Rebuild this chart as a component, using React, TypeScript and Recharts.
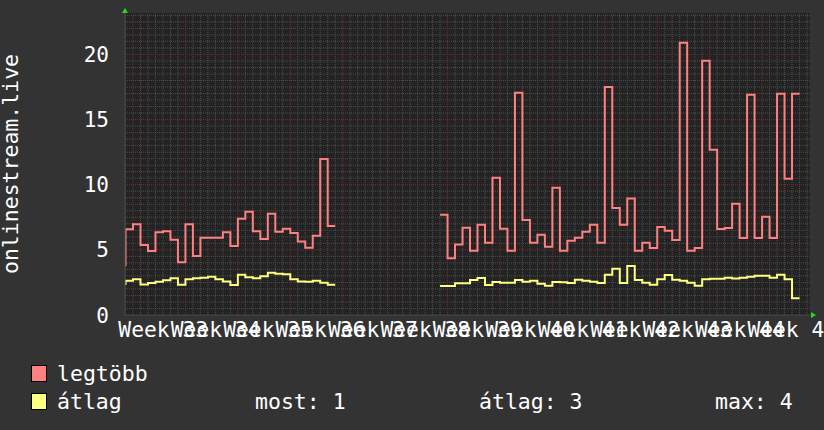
import { Line, LineChart, ReferenceArea, ReferenceDot, ReferenceLine, XAxis, YAxis } from 'recharts';

// daily samples, first value belongs to day -2 (day 0 = start of Week 33)
const firstDay = -2;

const legtobb = [
  3.84, 6.58, 6.96, 5.37, 4.91, 6.35, 6.42, 5.78, 4.04, 6.96, 4.53, 5.93, 5.93, 5.93, 6.35, 5.3,
  7.39, 7.93, 6.42, 5.83, 7.78, 6.39, 6.62, 6.29, 5.65, 5.17, 6.09, 11.97, 6.83,
  null, null, null, null, null, null, null, null, null, null, null, null, null, null,
  7.7, 4.35, 5.42, 6.7, 4.94, 6.93, 5.55, 10.54, 6.62, 4.94, 17.06, 7.29, 5.55, 6.16, 5.24, 9.77,
  4.94, 5.7, 5.93, 6.39, 6.93, 5.55, 17.5, 8.21, 6.93, 8.95, 4.94, 5.55, 5.14, 6.75, 6.47, 5.76,
  20.9, 4.94, 5.14, 19.52, 12.69, 6.6, 6.68, 8.54, 5.91, 16.91, 5.91, 7.54, 5.91, 16.99, 10.46, 16.99,
];

const atlag = [
  2.38, 2.63, 2.75, 2.35, 2.45, 2.56, 2.67, 2.83, 2.32, 2.74, 2.82, 2.86, 2.94, 2.75, 2.58, 2.3,
  3.08, 2.89, 2.83, 2.98, 3.25, 3.17, 3.12, 2.75, 2.58, 2.56, 2.63, 2.48, 2.32,
  null, null, null, null, null, null, null, null, null, null, null, null, null, null,
  2.23, 2.23, 2.43, 2.43, 2.69, 2.84, 2.3, 2.53, 2.48, 2.48, 2.69, 2.56, 2.63, 2.4, 2.25, 2.53,
  2.51, 2.46, 2.71, 2.63, 2.56, 2.46, 3.09, 3.55, 2.46, 3.76, 2.69, 2.48, 2.33, 2.74, 3.07, 2.71,
  2.63, 2.48, 2.25, 2.74, 2.79, 2.79, 2.86, 2.81, 2.86, 2.94, 3.02, 3.02, 2.86, 3.09, 2.74, 1.28,
];

const weekLabels = [
  'Week 33', 'Week 34', 'Week 35', 'Week 36', 'Week 37', 'Week 38', 'Week 39',
  'Week 40', 'Week 41', 'Week 42', 'Week 43', 'Week 44', 'Week 45',
];
const yTicks = [0, 5, 10, 15, 20];

const yTitle = 'onlinestream.live';
const legendItems = [
  { name: 'legtöbb', color: '#ff8080' },
  { name: 'átlag', color: '#ffff80' },
];
const stats = ['most: 1', 'átlag: 3', 'max: 4'];

const X_MIN = -1.07;
const X_MAX = 90.4;
const Y_MAX = 23.18;
const FONT = '"DejaVu Sans Mono", monospace';

// each value covers [day, day + 1)
const toSteps = (values: (number | null)[]) => {
  const out: { day: number; value: number | null }[] = [];
  values.forEach((v, i) => {
    const day = firstDay + i;
    out.push({ day, value: v });
    if (v != null && values[i + 1] == null) out.push({ day: day + 1, value: v });
  });
  return out;
};

const peakData = toSteps(legtobb);
const avgData = toSteps(atlag);

const weekTicks = weekLabels.map((_, i) => i * 7 + 3.5);
const majorX = weekLabels.map((_, i) => i * 7);
const minorX: number[] = [];
for (let d = -1; d <= 90; d++) if (d % 7 !== 0) minorX.push(d);
const minorY: number[] = [];
for (let v = 0.5; v <= 23; v += 0.5) if (v % 5 !== 0) minorY.push(v);
const majorY = yTicks.filter((v) => v > 0);

const XTick = ({ x, y, payload }: any) => {
  const idx = Math.round((payload.value - 3.5) / 7);
  return (
    <text x={x + 4} y={y + 14} textAnchor="middle" fill="#ffffff" fontSize={21.3} fontFamily={FONT}>
      {weekLabels[idx]}
    </text>
  );
};

const YTick = ({ x, y, payload }: any) => (
  <text x={x} y={y} dy="0.36em" textAnchor="end" fill="#ffffff" fontSize={21} fontFamily={FONT}>
    {payload.value}
  </text>
);

const UpArrow = ({ cx, cy }: any) => (
  <polygon points={`${cx - 3},${cy} ${cx + 3},${cy} ${cx},${cy - 5}`} fill="#22dd22" />
);
const RightArrow = ({ cx, cy }: any) => (
  <polygon points={`${cx + 1},${cy - 3} ${cx + 1},${cy + 3} ${cx + 6},${cy}`} fill="#22dd22" />
);

export default function App() {
  return (
    <div style={{ position: 'absolute', left: 0, top: 0, width: 824, height: 430, background: '#333333' }}>
      <LineChart width={824} height={430} margin={{ top: 13, right: 14, bottom: 85, left: 65 }}>
        <XAxis
          type="number"
          dataKey="day"
          domain={[X_MIN, X_MAX]}
          allowDataOverflow
          ticks={weekTicks}
          interval={0}
          tick={<XTick />}
          tickLine={false}
          axisLine={{ stroke: '#4a4a4a' }}
          height={30}
        />
        <YAxis
          type="number"
          domain={[0, Y_MAX]}
          allowDataOverflow
          ticks={yTicks}
          interval={0}
          tick={<YTick />}
          tickLine={false}
          tickSize={6}
          tickMargin={10}
          axisLine={{ stroke: '#4a4a4a' }}
          width={60}
        />
        <ReferenceArea x1={X_MIN} x2={X_MAX} y1={0} y2={Y_MAX} fill="#232323" fillOpacity={1} stroke="none" />
        {minorY.map((v) => (
          <ReferenceLine key={'hy' + v} y={v} stroke="#4e4e4e" strokeDasharray="1 1" />
        ))}
        {minorX.map((d) => (
          <ReferenceLine key={'hx' + d} x={d} stroke="#4e4e4e" strokeDasharray="1 1" />
        ))}
        {majorY.map((v) => (
          <ReferenceLine key={'my' + v} y={v} stroke="#6e3030" strokeDasharray="1 1" />
        ))}
        {majorX.map((d) => (
          <ReferenceLine key={'mx' + d} x={d} stroke="#6e3030" strokeDasharray="1 1" />
        ))}
        <Line
          data={peakData}
          dataKey="value"
          type="stepAfter"
          stroke="#ff8080"
          strokeWidth={2}
          dot={false}
          activeDot={false}
          connectNulls={false}
          isAnimationActive={false}
        />
        <Line
          data={avgData}
          dataKey="value"
          type="stepAfter"
          stroke="#ffff80"
          strokeWidth={2}
          dot={false}
          activeDot={false}
          connectNulls={false}
          isAnimationActive={false}
        />
        <ReferenceDot x={X_MIN} y={Y_MAX} r={0} shape={<UpArrow />} ifOverflow="visible" />
        <ReferenceDot x={X_MAX} y={0} r={0} shape={<RightArrow />} ifOverflow="visible" />
      </LineChart>
      <svg width={824} height={430} style={{ position: 'absolute', left: 0, top: 0, pointerEvents: 'none' }}>
        <text
          x={18}
          y={164}
          transform="rotate(-90 18 164)"
          textAnchor="middle"
          fill="#ffffff"
          fontSize={21.5}
          fontFamily={FONT}
        >
          {yTitle}
        </text>
        {legendItems.map((item, i) => (
          <g key={item.name}>
            <rect x={31.5} y={365.5 + i * 28} width={15} height={16} fill={item.color} stroke="#000000" />
            <text x={57} y={381 + i * 28} fill="#ffffff" fontSize={21.5} fontFamily={FONT}>
              {item.name}
            </text>
          </g>
        ))}
        {stats.map((s, i) => (
          <text key={s} x={[255, 479, 715][i]} y={409} fill="#ffffff" fontSize={21.5} fontFamily={FONT}>
            {s}
          </text>
        ))}
      </svg>
    </div>
  );
}
